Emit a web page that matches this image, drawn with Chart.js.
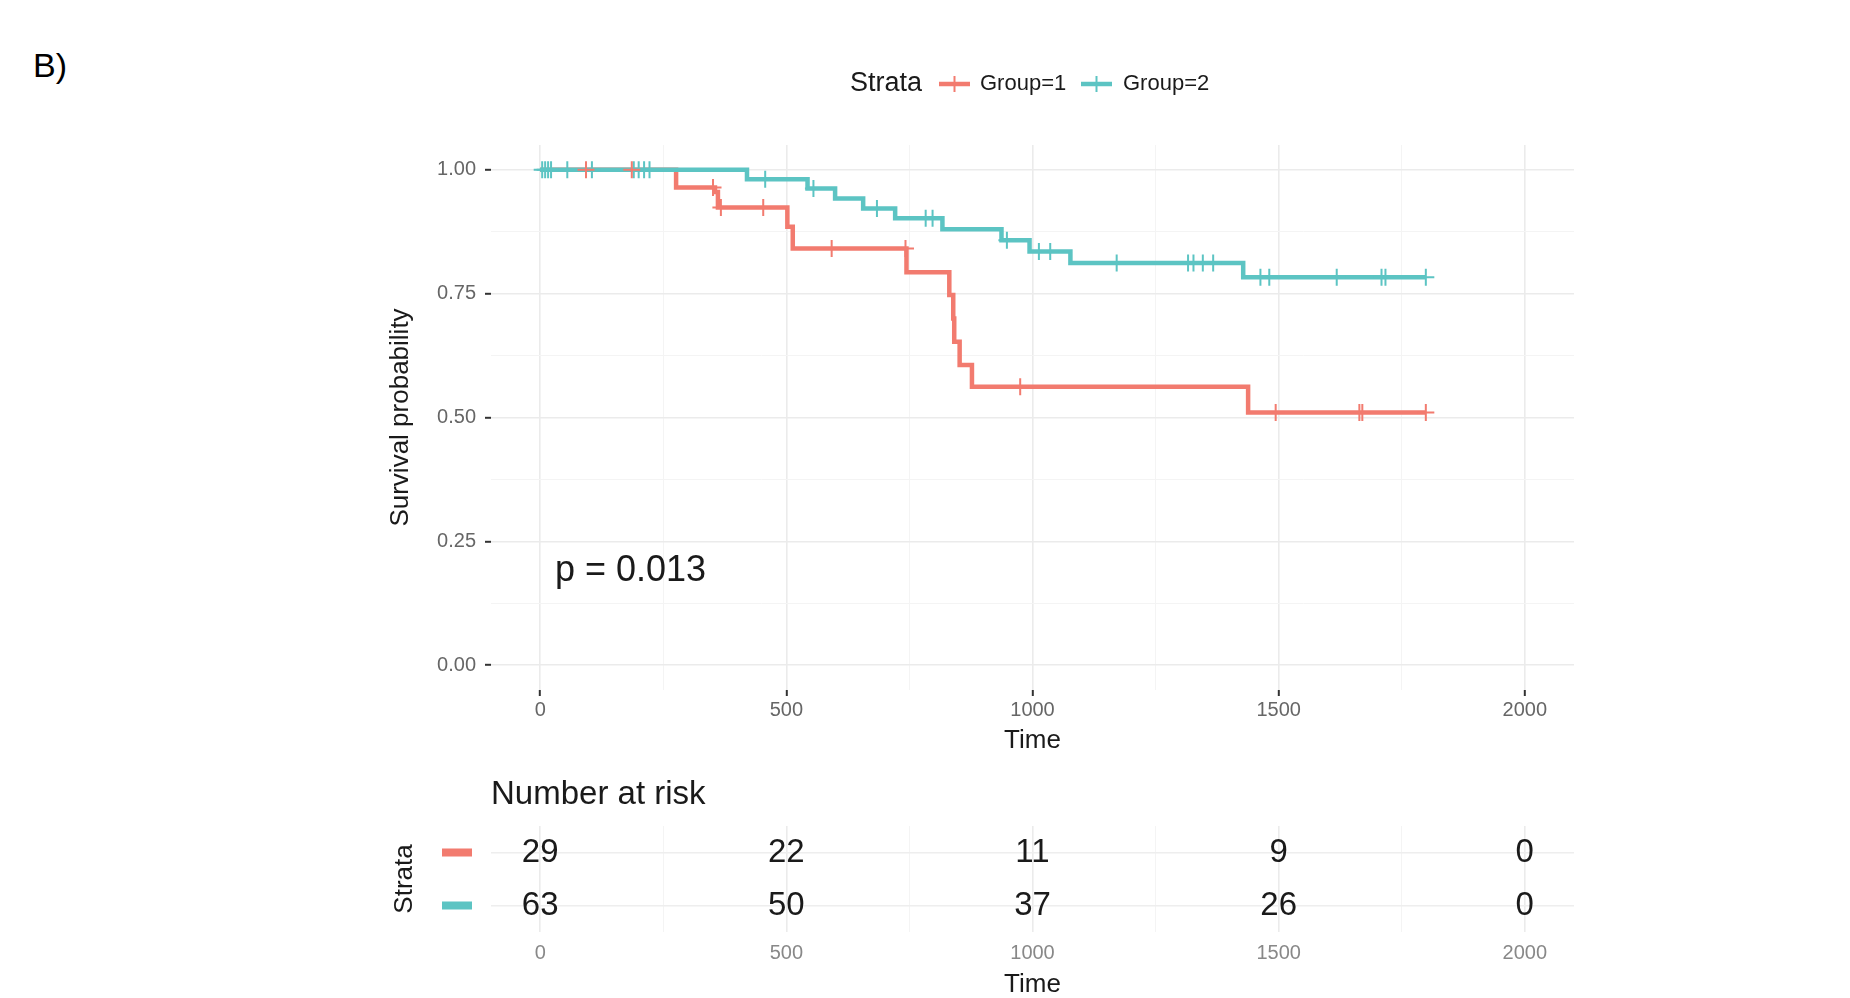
<!DOCTYPE html>
<html>
<head>
<meta charset="utf-8">
<title>Survival curves</title>
<script src="https://cdn.jsdelivr.net/npm/chart.js@4.4.0/dist/chart.umd.min.js"></script>
<style>
  html, body { margin: 0; padding: 0; background: #fff; overflow: hidden; }
  #page { position: relative; width: 1850px; height: 998px; }
  #lbl { position: absolute; left: 33px; top: 46px; font: 34px 'Liberation Sans', Arial, sans-serif; color: #000; }
  #kmBox { position: absolute; left: 0; top: 0; width: 1850px; height: 760px; }
  #riskBox { position: absolute; left: 0; top: 776px; width: 1850px; height: 222px; }
</style>
</head>
<body>
<div id="page">
  <div id="lbl">B)</div>
  <div id="kmBox"><canvas id="km"></canvas></div>
  <div id="riskBox"><canvas id="risk"></canvas></div>
</div>
<script>
// values
var strata = ['Group=1', 'Group=2'];
var strataColors = ['#F27B6F', '#5CC4C3'];

// KM steps: time and survival after the step
var g1Times = [0, 276, 355, 361, 502, 513, 744, 831, 839, 841, 852, 877, 1438, 1799];
var g1Surv  = [1.000, 0.964, 0.955, 0.924, 0.885, 0.841, 0.793, 0.747, 0.700, 0.653, 0.606, 0.562, 0.510, 0.510];
var g1Censor = [93, 186, 351, 367, 453, 592, 742, 975, 1494, 1664, 1670, 1799];

var g2Times = [0, 420, 543, 599, 656, 721, 817, 937, 994, 1077, 1428, 1799];
var g2Surv  = [1.000, 0.981, 0.962, 0.942, 0.922, 0.902, 0.880, 0.858, 0.835, 0.812, 0.783, 0.783];
var g2Censor = [4, 10, 16, 22, 55, 105, 190, 200, 211, 222, 457, 555, 684, 783, 797, 948, 1013, 1036,
                1171, 1316, 1327, 1346, 1367, 1463, 1481, 1618, 1709, 1717, 1799];

// number at risk table
var riskTimes = [0, 500, 1000, 1500, 2000];
var riskG1 = [29, 22, 11, 9, 0];
var riskG2 = [63, 50, 37, 26, 0];

var pvalText = 'p = 0.013';
var pvalPos = [30, 0.19];

var majorX = [0, 500, 1000, 1500, 2000];
var minorX = [250, 750, 1250, 1750];
var majorY = [0, 0.25, 0.5, 0.75, 1];
var minorY = [0.125, 0.375, 0.625, 0.875];

Chart.defaults.font.family = "'Liberation Sans', Arial, sans-serif";

function stepPoints(times, surv) {
  return times.map(function (t, i) { return { x: t, y: surv[i] }; });
}
// put a censor mark on the curve at its time
function censorPoints(cens, times, surv) {
  return cens.map(function (c) {
    var s = surv[0];
    for (var i = 0; i < times.length; i++) if (times[i] <= c) s = surv[i];
    return { x: c, y: s };
  });
}
function allTicks(a, b) {
  return a.concat(b).sort(function (p, q) { return p - q; }).map(function (v) { return { value: v }; });
}
function isIn(v, arr) { return arr.indexOf(v) >= 0; }

function gridOpts(majors, ticks) {
  return {
    color: function (c) { return c.tick && isIn(c.tick.value, majors) ? '#EBEBEB' : '#F4F4F4'; },
    lineWidth: function (c) { return c.tick && isIn(c.tick.value, majors) ? 1.6 : 1; },
    drawTicks: ticks,
    tickLength: 6,
    tickWidth: 2,
    tickColor: function (c) { return c.tick && isIn(c.tick.value, majors) ? '#333' : 'rgba(0,0,0,0)'; }
  };
}

var kmPlugin = {
  id: 'kmExtras',
  afterDatasetsDraw: function (chart) {
    var ctx = chart.ctx, xs = chart.scales.x, ys = chart.scales.y;
    ctx.save();
    // p value
    ctx.fillStyle = '#1a1a1a';
    ctx.font = "36px 'Liberation Sans', Arial, sans-serif";
    ctx.textAlign = 'left';
    ctx.textBaseline = 'middle';
    ctx.fillText(pvalText, xs.getPixelForValue(pvalPos[0]), ys.getPixelForValue(pvalPos[1]));

    // legend on top
    var ly = 84;
    ctx.font = "27px 'Liberation Sans', Arial, sans-serif";
    ctx.fillText('Strata', 850, ly);
    var items = [[939, 970, 980], [1081, 1112, 1123]];
    ctx.font = "22px 'Liberation Sans', Arial, sans-serif";
    items.forEach(function (it, i) {
      ctx.strokeStyle = strataColors[i];
      ctx.lineWidth = 4.5;
      ctx.beginPath(); ctx.moveTo(it[0], ly); ctx.lineTo(it[1], ly); ctx.stroke();
      var cx = (it[0] + it[1]) / 2;
      ctx.lineWidth = 2;
      ctx.beginPath(); ctx.moveTo(cx, ly - 8); ctx.lineTo(cx, ly + 8); ctx.stroke();
      ctx.fillStyle = '#1a1a1a';
      ctx.fillText(strata[i], it[2], ly);
    });
    ctx.restore();
  }
};

new Chart(document.getElementById('km'), {
  type: 'scatter',
  data: {
    datasets: [
      { label: strata[0] + ' censored', data: censorPoints(g1Censor, g1Times, g1Surv),
        pointStyle: 'cross', pointRadius: 8.5, borderColor: strataColors[0], borderWidth: 2, order: 0 },
      { label: strata[1] + ' censored', data: censorPoints(g2Censor, g2Times, g2Surv),
        pointStyle: 'cross', pointRadius: 8.5, borderColor: strataColors[1], borderWidth: 2, order: 1 },
      { label: strata[1], data: stepPoints(g2Times, g2Surv), showLine: true, stepped: true,
        borderColor: strataColors[1], borderWidth: 4.5, pointRadius: 0, borderJoinStyle: 'miter', order: 2 },
      { label: strata[0], data: stepPoints(g1Times, g1Surv), showLine: true, stepped: true,
        borderColor: strataColors[0], borderWidth: 4.5, pointRadius: 0, borderJoinStyle: 'miter', order: 3 }
    ]
  },
  options: {
    responsive: true,
    maintainAspectRatio: false,
    animation: false,
    events: [],
    layout: { padding: { left: 381.4, right: 276, top: 145, bottom: 3.4 } },
    plugins: { legend: { display: false }, tooltip: { enabled: false } },
    scales: {
      x: {
        type: 'linear', min: -100, max: 2100,
        afterBuildTicks: function (s) { s.ticks = allTicks(majorX, minorX); },
        afterFit: function (s) { s.height = 66.6; },
        grid: gridOpts(majorX, true),
        border: { display: false },
        ticks: { autoSkip: false, maxRotation: 0, padding: 2, color: '#666', font: { size: 20 },
                 callback: function (v) { return isIn(v, majorX) ? String(v) : ''; } },
        title: { display: true, text: 'Time', color: '#1a1a1a', font: { size: 26 }, padding: { top: 0, bottom: 0 } }
      },
      y: {
        type: 'linear', min: -0.05, max: 1.05,
        afterBuildTicks: function (s) { s.ticks = allTicks(majorY, minorY); },
        afterFit: function (s) { s.width = 109.6; },
        grid: gridOpts(majorY, true),
        border: { display: false },
        ticks: { autoSkip: false, padding: 9, color: '#666', font: { size: 20 },
                 callback: function (v) { return isIn(v, majorY) ? v.toFixed(2) : ''; } },
        title: { display: true, text: 'Survival probability', color: '#1a1a1a', font: { size: 26 }, padding: { top: 4, bottom: 4 } }
      }
    }
  },
  plugins: [kmPlugin]
});

var riskPlugin = {
  id: 'riskText',
  afterDatasetsDraw: function (chart) {
    var ctx = chart.ctx, ys = chart.scales.y;
    ctx.save();
    ctx.textAlign = 'center';
    ctx.textBaseline = 'middle';
    ctx.fillStyle = '#1a1a1a';
    ctx.font = "33px 'Liberation Sans', Arial, sans-serif";
    chart.data.datasets.forEach(function (ds, di) {
      var meta = chart.getDatasetMeta(di);
      meta.data.forEach(function (pt, i) { ctx.fillText(String(ds.counts[i]), pt.x, pt.y); });
      ctx.fillStyle = strataColors[di];
      ctx.fillRect(442, ys.getPixelForValue(ds.row) - 4, 30, 8);
      ctx.fillStyle = '#1a1a1a';
    });
    ctx.textAlign = 'left';
    ctx.fillText('Number at risk', chart.chartArea.left, chart.chartArea.top - 31);
    ctx.restore();
  }
};

new Chart(document.getElementById('risk'), {
  type: 'scatter',
  data: {
    datasets: [
      { label: strata[0], row: 2, counts: riskG1, pointRadius: 0,
        data: riskTimes.map(function (t) { return { x: t, y: 2 }; }) },
      { label: strata[1], row: 1, counts: riskG2, pointRadius: 0,
        data: riskTimes.map(function (t) { return { x: t, y: 1 }; }) }
    ]
  },
  options: {
    responsive: true,
    maintainAspectRatio: false,
    animation: false,
    events: [],
    layout: { padding: { left: 385.4, right: 276, top: 50, bottom: 0 } },
    plugins: { legend: { display: false }, tooltip: { enabled: false } },
    scales: {
      x: {
        type: 'linear', min: -100, max: 2100,
        afterBuildTicks: function (s) { s.ticks = allTicks(majorX, minorX); },
        afterFit: function (s) { s.height = 66; },
        grid: gridOpts(majorX, false),
        border: { display: false },
        ticks: { autoSkip: false, maxRotation: 0, padding: 9, color: '#888', font: { size: 20 },
                 callback: function (v) { return isIn(v, majorX) ? String(v) : ''; } },
        title: { display: true, text: 'Time', color: '#1a1a1a', font: { size: 26, lineHeight: 1 }, padding: { top: 0, bottom: 0 } }
      },
      y: {
        type: 'linear', min: 0.5, max: 2.5,
        afterBuildTicks: function (s) { s.ticks = [{ value: 1 }, { value: 2 }]; },
        afterFit: function (s) { s.width = 105.6; },
        grid: { color: '#EEEEEE', lineWidth: 1.6, drawTicks: false },
        border: { display: false },
        ticks: { display: false },
        title: { display: true, text: 'Strata', color: '#1a1a1a', font: { size: 26 }, padding: { top: 4, bottom: 4 } }
      }
    }
  },
  plugins: [riskPlugin]
});
</script>
</body>
</html>
